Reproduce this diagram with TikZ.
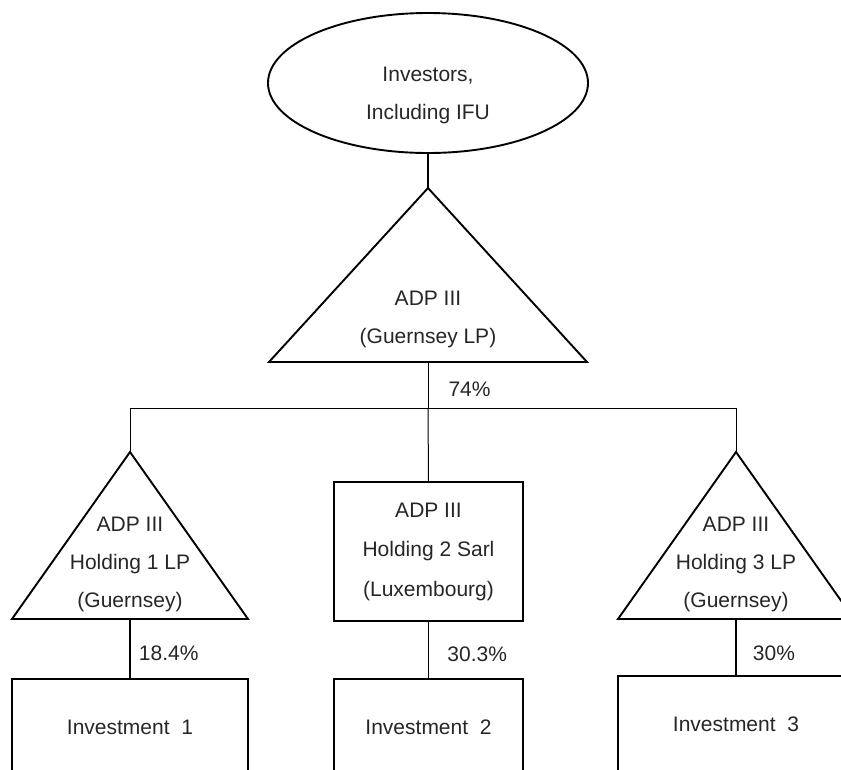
\documentclass[tikz,border=0pt]{standalone}
\usepackage{fontspec}
\setmainfont{Liberation Sans}
\usetikzlibrary{shapes.geometric,positioning,calc}
\tikzset{>=latex}
\tikzset{
  every node/.style={font=\fontsize{21}{38}\selectfont, text=black!85},
  owner/.style={ellipse, draw, line width=1.9pt, minimum width=320pt, minimum height=140pt, inner sep=0pt},
  fundtri/.style={isosceles triangle, isosceles triangle stretches, shape border rotate=90,
    draw, line width=1.9pt, inner sep=0pt, outer sep=0pt},
  bigtri/.style={fundtri, minimum width=318pt, minimum height=174pt},
  smalltri/.style={fundtri, minimum width=236pt, minimum height=167pt},
  entity/.style={rectangle, draw, line width=1.9pt, align=center, inner sep=0pt, outer sep=0pt},
  lbl/.style={align=center, inner sep=0pt},
  pct/.style={inner sep=0pt},
  link/.style={line width=1.9pt},
  bus/.style={line width=1pt}
}
\begin{document}
\begin{tikzpicture}[x=1pt,y=-1pt]
  \useasboundingbox (0,0) rectangle (841,769);
  \clip (0,0) rectangle (841,769);

  % Nodes
  \node[owner]                  (investors) at (428,83)  {};
  \node[lbl]                    (investorstxt) at ($(investors.center)+(0,12)$) {Investors,\\Including IFU};
  \node[bigtri, anchor=apex]    (adp)   at (428,188) {};
  \node[lbl]                    (adptxt) at ($(adp.lower side)+(0,-43)$) {ADP III\\(Guernsey LP)};
  \coordinate                   (split) at (428,408);
  \node[smalltri, anchor=apex]  (hold1) at (130,452) {};
  \node[lbl]                    (hold1txt) at ($(hold1.lower side)+(0,-55)$) {ADP III\\Holding 1 LP\\(Guernsey)};
  \node[entity, anchor=north, minimum width=189pt, minimum height=139pt] (hold2) at (428.5,482)
    {ADP III\\[1.5pt]Holding 2 Sarl\\[1.5pt](Luxembourg)};
  \node[smalltri, anchor=apex]  (hold3) at (736,452) {};
  \node[lbl]                    (hold3txt) at ($(hold3.lower side)+(0,-55)$) {ADP III\\Holding 3 LP\\(Guernsey)};
  \node[entity, anchor=north, minimum width=236pt, minimum height=96pt] (deal1) at (130,679) {Investment~ 1};
  \node[entity, anchor=north, minimum width=189pt, minimum height=96pt] (deal2) at (428.5,679) {Investment~ 2};
  \node[entity, anchor=north, minimum width=236pt, minimum height=96pt] (deal3) at (736,676) {Investment~ 3};

  % Edges
  \draw[link] (investors.south) -- (adp.apex);
  \draw[bus] (adp.lower side) -- node[pct, right=20pt, yshift=-4pt] {74\%} (split);
  \draw[bus] (hold1.apex) -- (hold1.apex |- split) -- (hold3.apex |- split) -- (hold3.apex);
  \draw[bus] (split) -- (hold2.north);
  \draw[link] (hold1.lower side) -- node[pct, right=8pt, yshift=-4pt] {18.4\%} (deal1.north);
  \draw[link] (hold2.south) -- node[pct, right=18pt, yshift=-4pt] {30.3\%} (deal2.north);
  \draw[link] (hold3.lower side) -- node[pct, right=16pt, yshift=-5.5pt] {30\%} (deal3.north);
\end{tikzpicture}
\end{document}
